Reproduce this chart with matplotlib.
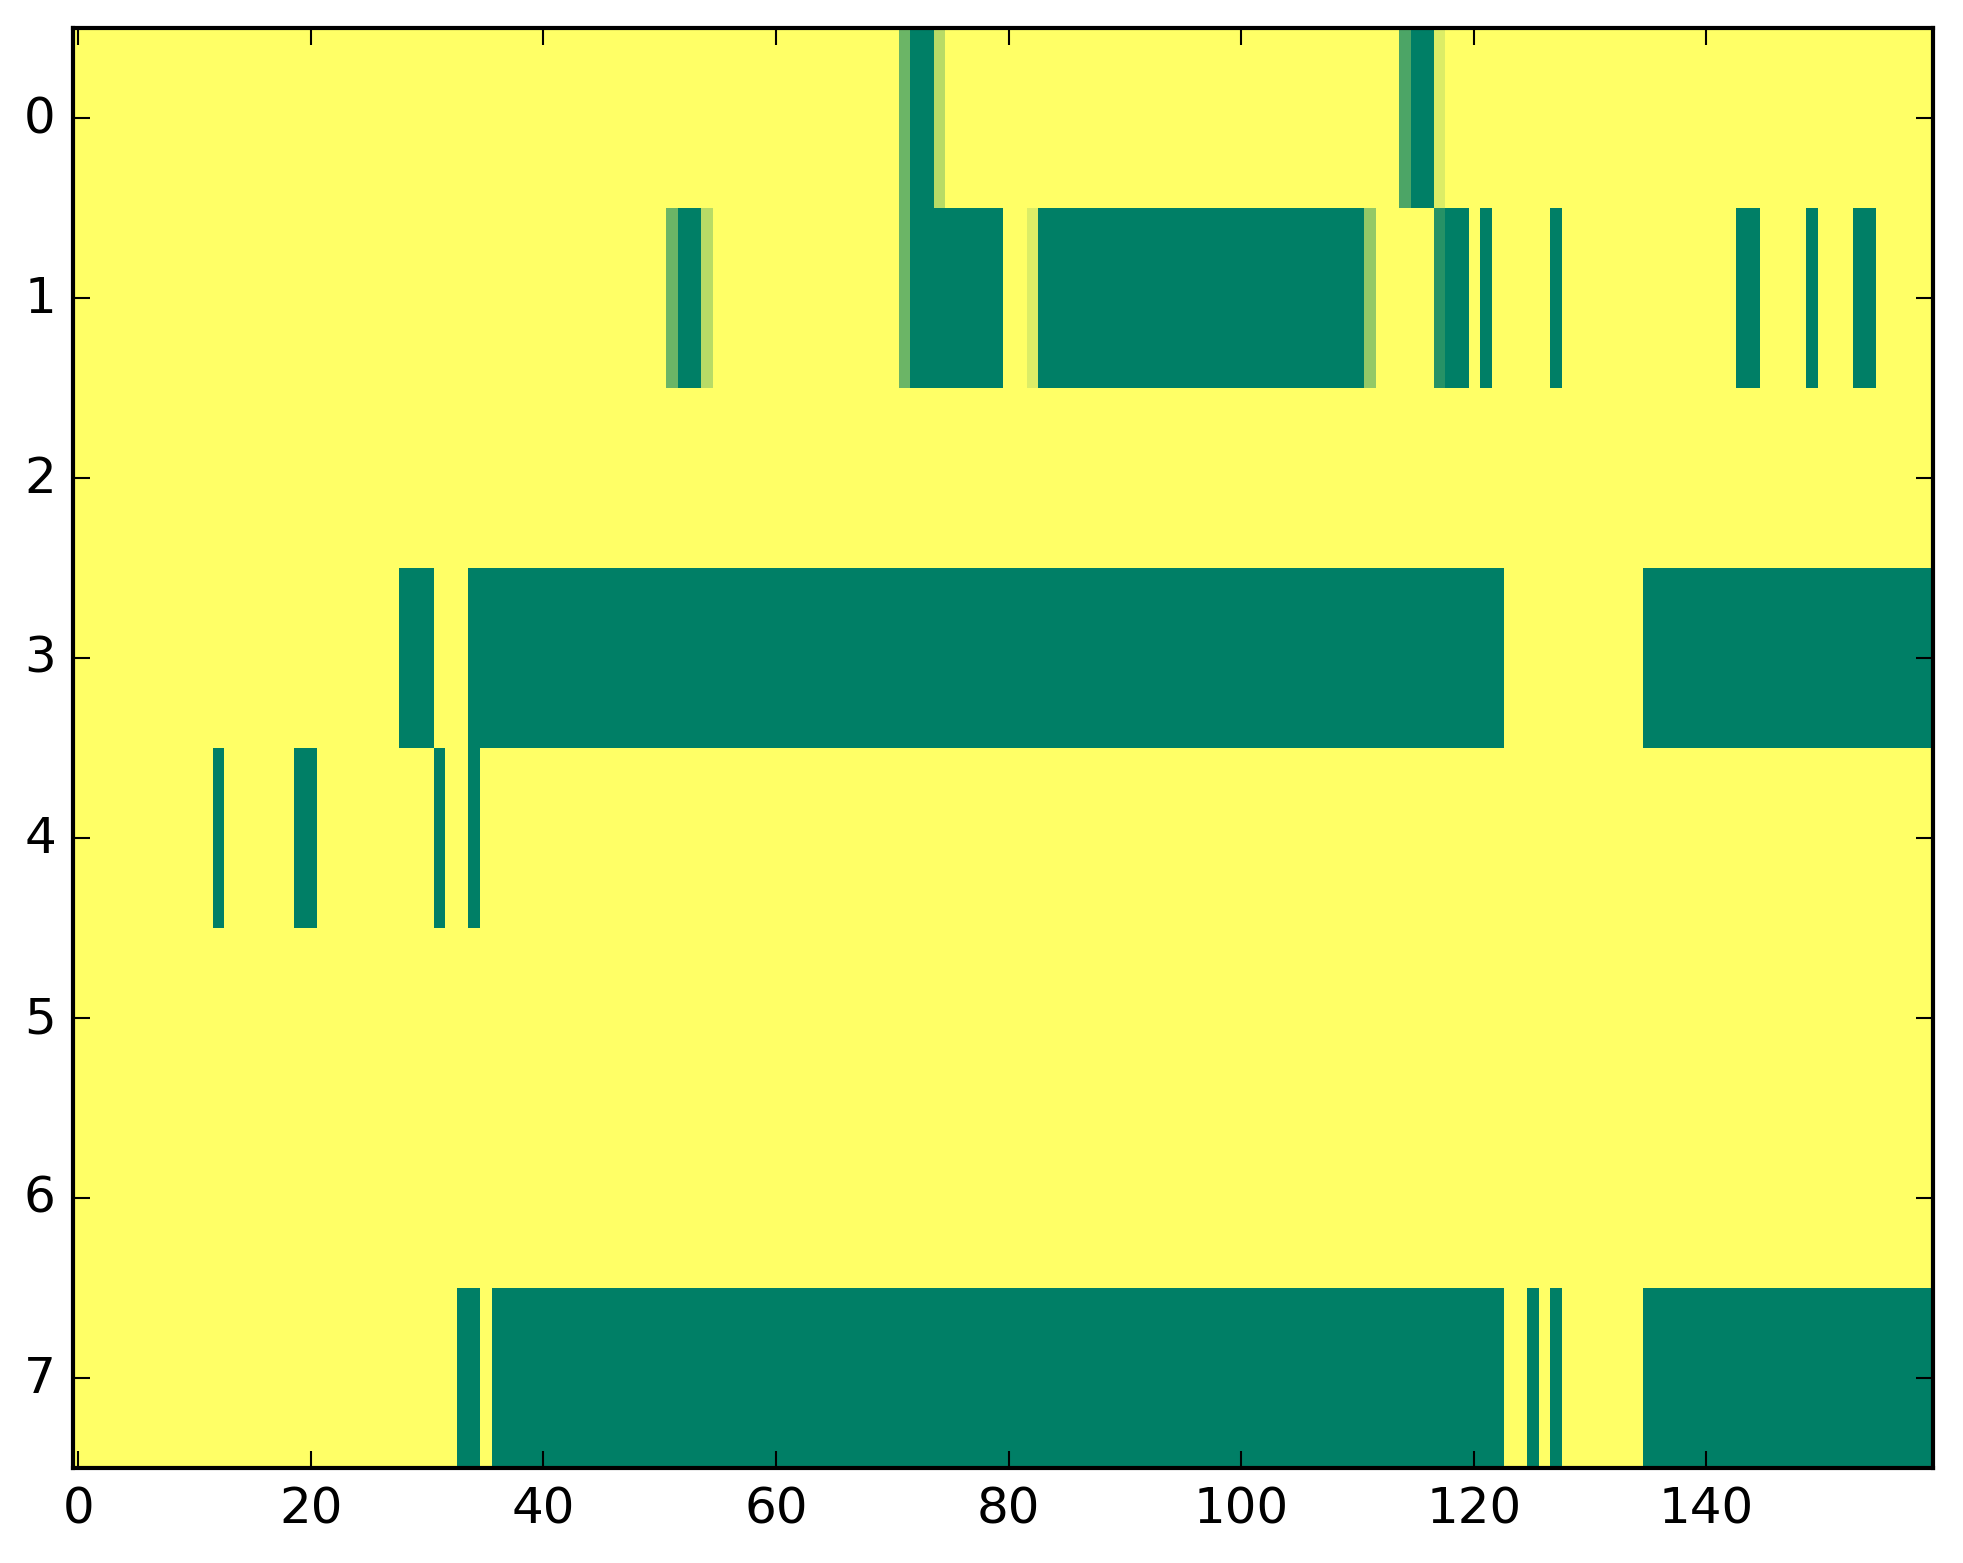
import numpy as np
import matplotlib
matplotlib.use("Agg")
import matplotlib.pyplot as plt

n_rows, n_cols = 8, 160

# segments per row: (first column, last column, value); everything else is 1
row0 = [(71, 71, 0.42), (72, 73, 0.0), (74, 74, 0.72),
        (114, 114, 0.30), (115, 116, 0.0), (117, 117, 0.86)]
row1 = [(51, 51, 0.42), (52, 53, 0.0), (54, 54, 0.72),
        (71, 71, 0.42), (72, 79, 0.0), (82, 82, 0.86), (83, 110, 0.0),
        (111, 111, 0.58), (117, 117, 0.15), (118, 119, 0.0), (121, 121, 0.0),
        (127, 127, 0.0), (143, 144, 0.0), (149, 149, 0.0), (153, 154, 0.0)]
row3 = [(28, 30, 0.0), (34, 122, 0.0), (135, 159, 0.0)]
row4 = [(12, 12, 0.0), (19, 20, 0.0), (31, 31, 0.0), (34, 34, 0.0)]
row7 = [(33, 34, 0.0), (36, 122, 0.0), (125, 125, 0.0), (127, 127, 0.0),
        (135, 159, 0.0)]

rows = {0: row0, 1: row1, 3: row3, 4: row4, 7: row7}

data = np.ones((n_rows, n_cols))
for r, segs in rows.items():
    for a, b, v in segs:
        data[r, a:b + 1] = v

plt.style.use('classic')
fig = plt.figure(figsize=(1963 / 300, 1564 / 300), dpi=300)
ax = fig.add_axes([72.5 / 1963, 1 - 1469 / 1564, 1860.5 / 1963, 1440 / 1564])

ax.imshow(data, cmap='summer', vmin=0, vmax=1, aspect='auto',
          interpolation='nearest')
ax.set_xticks(np.arange(0, 160, 20))
ax.set_yticks(np.arange(0, 8))
ax.tick_params(labelsize=12)

fig.savefig('out.png', dpi=300)
